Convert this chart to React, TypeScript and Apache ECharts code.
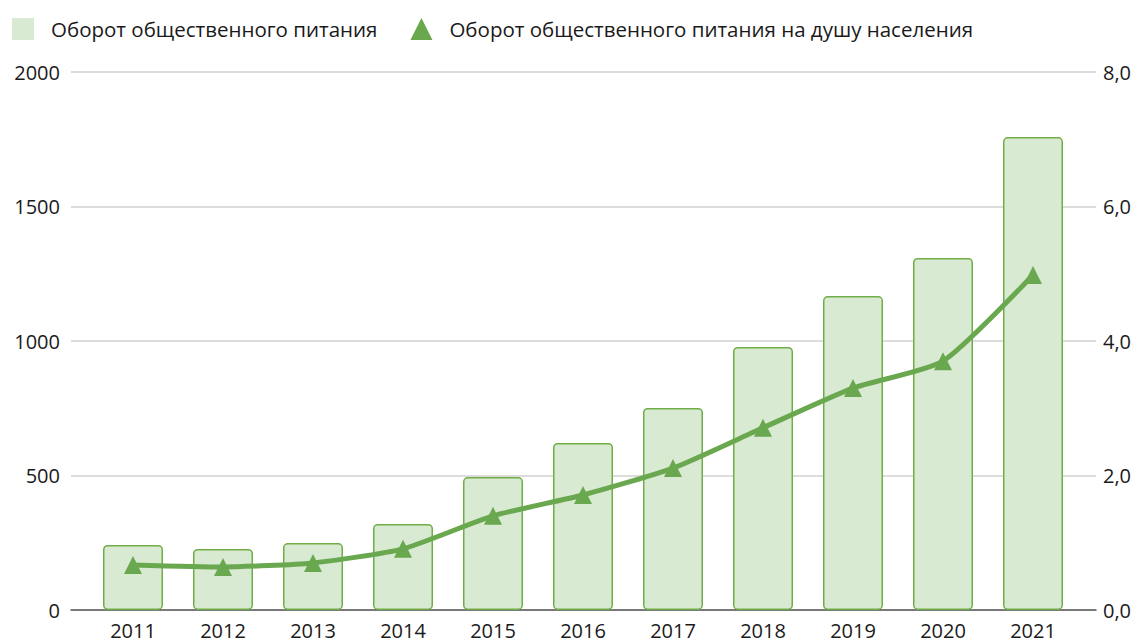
import React, { useEffect, useRef } from "react";
import * as echarts from "echarts";

const years = ["2011", "2012", "2013", "2014", "2015", "2016", "2017", "2018", "2019", "2020", "2021"];
const turnover = [242, 227, 249, 320, 494, 621, 751, 978, 1167, 1309, 1758];
const perCapita = [0.67, 0.64, 0.7, 0.91, 1.4, 1.71, 2.11, 2.71, 3.3, 3.7, 4.98];
const leftTicks = [0, 500, 1000, 1500, 2000];
const rightTicks = [0, 2, 4, 6, 8];

const barName = "Оборот общественного питания";
const lineName = "Оборот общественного питания на душу населения";

export default function App() {
  const ref = useRef<HTMLDivElement>(null);
  useEffect(() => {
    const chart = echarts.init(ref.current!, null, { renderer: "svg" });
    const font = "'Open Sans', 'Noto Sans', sans-serif";
    const green = "#70ad47";
    chart.setOption({
      animation: false,
      textStyle: { fontFamily: font },
      legend: {
        left: 7,
        top: 13,
        itemWidth: 22,
        itemHeight: 22,
        itemGap: 33,
        textStyle: { fontSize: 20.5, color: "#1a1a1a", fontFamily: font, padding: [0, 0, 0, 12] },
        data: [
          { name: barName, icon: "rect", itemStyle: { color: "#d9ead3", borderWidth: 0 } },
          { name: lineName, icon: "triangle", itemStyle: { color: "#6aa84f" } },
        ],
      },
      grid: [
        { left: 71, right: 42, top: 72, bottom: 31, containLabel: false },
        { left: 88, right: 60, top: 72, bottom: 31, containLabel: false },
      ],
      xAxis: [
        {
          gridIndex: 0,
          type: "category",
          data: years,
          axisLine: { show: true, lineStyle: { color: "#595959", width: 1.5 } },
          axisTick: { show: false },
          axisLabel: { show: false },
        },
        {
          gridIndex: 1,
          type: "category",
          data: years,
          axisLine: { show: false },
          axisTick: { show: false },
          axisLabel: { fontSize: 20, color: "#1a1a1a", margin: 10, fontFamily: font },
        },
      ],
      yAxis: [
        {
          gridIndex: 0,
          type: "value",
          min: leftTicks[0],
          max: leftTicks[leftTicks.length - 1],
          interval: 500,
          axisLabel: { fontSize: 20, color: "#1a1a1a", margin: 11, fontFamily: font, formatter: (v: number) => String(v) },
          splitLine: { lineStyle: { color: "#d0d0d0", width: 1.5 } },
          axisLine: { show: false },
          axisTick: { show: false },
        },
        {
          gridIndex: 0,
          type: "value",
          position: "right",
          min: rightTicks[0],
          max: rightTicks[rightTicks.length - 1],
          interval: 2,
          axisLabel: {
            fontSize: 20,
            color: "#1a1a1a",
            margin: 7,
            fontFamily: font,
            formatter: (v: number) => v.toFixed(1).replace(".", ","),
          },
          splitLine: { show: false },
          axisLine: { show: false },
          axisTick: { show: false },
        },
        { gridIndex: 1, type: "value", min: 0, max: 2000, show: false },
        { gridIndex: 1, type: "value", min: 0, max: 8, show: false },
      ],
      series: [
        {
          name: barName,
          type: "bar",
          xAxisIndex: 1,
          yAxisIndex: 2,
          data: turnover,
          barWidth: 60,
          itemStyle: { color: "#d9ead3", borderColor: green, borderWidth: 1.5, borderRadius: 4 },
        },
        {
          name: lineName,
          type: "line",
          xAxisIndex: 1,
          yAxisIndex: 3,
          data: perCapita,
          smooth: 0.2,
          symbol: "triangle",
          symbolSize: 18,
          lineStyle: { color: "#6aa84f", width: 5 },
          itemStyle: { color: "#6aa84f" },
        },
      ],
    });
    return () => chart.dispose();
  }, []);
  return <div ref={ref} style={{ width: 1138, height: 641, position: "absolute", left: 0, top: 0 }} />;
}
